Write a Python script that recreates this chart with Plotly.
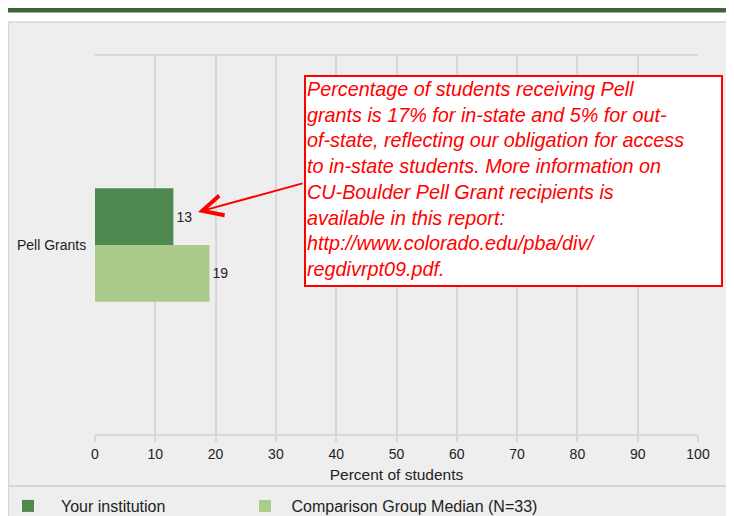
import plotly.graph_objects as go

categories = ["Pell Grants"]
your_institution = [13]
comparison_median = [19]
series_names = ["Your institution", "Comparison Group Median (N=33)"]
x_ticks = [0, 10, 20, 30, 40, 50, 60, 70, 80, 90, 100]
note_lines = [
    "Percentage of students receiving Pell",
    "grants is 17% for in-state and 5% for out-",
    "of-state, reflecting our obligation for access",
    "to in-state students. More information on",
    "CU-Boulder Pell Grant recipients is",
    "available in this report:",
    "http://www.colorado.edu/pba/div/",
    "regdivrpt09.pdf.",
]

W, H = 734, 516
OFF = 8  # page body margin offset
L, R, T, B = 95, 698, 56, 434  # target plot area on screen
PW, PH = R - L, B - T

def px(x):
    return (x - L) / PW

def py(y):
    return (B - y) / PH

FONT = "Liberation Sans, Arial, sans-serif"

fig = go.Figure()
fig.add_trace(go.Bar(
    y=categories, x=your_institution, name=series_names[0], orientation="h",
    marker=dict(color="#4e8a4f", line=dict(width=0)),
    text=[str(v) for v in your_institution], textposition="outside",
    textfont=dict(size=14, color="#222222", family=FONT), cliponaxis=False,
    legend="legend",
))
fig.add_trace(go.Bar(
    y=categories, x=comparison_median, name=series_names[1], orientation="h",
    marker=dict(color="#aacb8a", line=dict(width=0)),
    text=[str(v) for v in comparison_median], textposition="outside",
    textfont=dict(size=14, color="#222222", family=FONT), cliponaxis=False,
    legend="legend2",
))

shapes = [
    dict(type="rect", xref="paper", yref="paper", x0=px(8), x1=px(731), y0=py(12.5), y1=py(7),
         fillcolor="#3e6537", line=dict(width=0), layer="below"),
    dict(type="rect", xref="paper", yref="paper", x0=px(8.5), x1=px(730.5), y0=py(540), y1=py(22),
         fillcolor="#eeeeee", line=dict(color="#d6d6d6", width=1.5), layer="below"),
    dict(type="line", xref="paper", yref="paper", x0=px(9), x1=px(730), y0=py(486), y1=py(486),
         line=dict(color="#d6d6d6", width=2), layer="below"),
]

annotations = [
    dict(xref="paper", yref="paper", x=px(304), y=py(75), xanchor="left", yanchor="top",
         text="<br>".join(note_lines), showarrow=False, align="left", valign="top",
         font=dict(family=FONT, size=19.8, color="#ff0000", style="italic"),
         bgcolor="#ffffff", bordercolor="#ff0000", borderwidth=2, borderpad=1,
         width=413, height=206),
    dict(xref="paper", yref="paper", x=px(198), y=py(212), text="", showarrow=True,
         ax=106, ay=-29, arrowhead=5, arrowsize=2.0, arrowwidth=2, arrowcolor="#ff0000",
         standoff=0),
]

legend_common = dict(orientation="h", yanchor="top", xanchor="left",
                     font=dict(size=16, color="#222222", family=FONT),
                     bgcolor="rgba(0,0,0,0)",
                     itemclick=False, itemdoubleclick=False)

fig.update_layout(
    width=W, height=H,
    margin=dict(l=L - OFF, r=W - R + OFF, t=T - OFF, b=H - B + OFF, pad=0, autoexpand=False),
    paper_bgcolor="#ffffff", plot_bgcolor="#eeeeee",
    barmode="group", bargap=0.7, bargroupgap=0,
    font=dict(family=FONT, size=14, color="#222222"),
    showlegend=True,
    legend=dict(x=px(-5), y=py(489), itemwidth=56, **legend_common),
    legend2=dict(x=px(238.5), y=py(489), itemwidth=43, **legend_common),
    shapes=shapes, annotations=annotations,
    xaxis=dict(range=[0, 100], tickvals=x_ticks, showgrid=True, gridcolor="#d8d8d8", gridwidth=2,
               showline=True, linecolor="#d8d8d8", linewidth=2, mirror=True,
               ticks="outside", ticklen=6, tickwidth=2, tickcolor="#d8d8d8",
               ticklabelstandoff=0, automargin=False,
               tickfont=dict(size=14, color="#222222"), zeroline=False,
               title=dict(text="Percent of students", font=dict(size=15.5, color="#222222"), standoff=8),
               fixedrange=True),
    yaxis=dict(autorange="reversed", showgrid=False, zeroline=False, showline=False,
               ticks="outside", ticklen=5, tickcolor="rgba(0,0,0,0)", automargin=False,
               tickfont=dict(size=14, color="#222222"), fixedrange=True),
)

fig.write_html("out.html")
